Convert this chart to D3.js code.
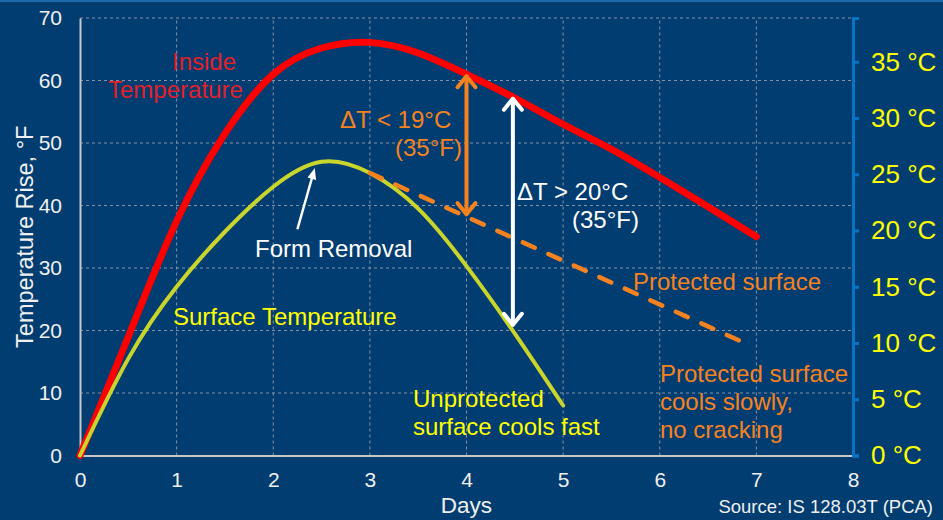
<!DOCTYPE html>
<html>
<head>
<meta charset="utf-8">
<script src="https://cdn.jsdelivr.net/npm/d3@7"></script>
<style>
  body { margin: 0; background: #023d71; }
  svg { display: block; font-family: "Liberation Sans", Arial, sans-serif; }
</style>
</head>
<body>
<div id="chart"></div>
<script>
// Werte
const dayTicks = [0, 1, 2, 3, 4, 5, 6, 7, 8];
const fTicks = [0, 10, 20, 30, 40, 50, 60, 70];
const cTicks = [0, 5, 10, 15, 20, 25, 30, 35];

const insideDays = [0, 0.5, 1, 1.5, 2, 2.5, 3, 3.5, 4, 4.5, 5, 5.5, 6, 6.5, 7];
const insideTemp = [0, 19, 37.5, 51.5, 61, 65.2, 66.1, 64.4, 61, 57.2, 53, 49, 44.5, 39.8, 35];

const surfaceDays = [0, 0.5, 1, 1.5, 2, 2.5, 3, 3.5, 4, 4.5, 5];
const surfaceTemp = [0, 15.5, 27, 35.8, 43, 47, 45.2, 39.5, 30.3, 19.5, 8];

const protectedDays = [3, 6.85];
const protectedTemp = [45.2, 18.2];

// Pfeile: [Tag, von, bis]
const arrowOrange = [4, 38.3, 61];
const arrowWhite = [4.48, 20.6, 57.4];
const formRemovalArrow = [[2.25, 36.2], [2.43, 46]];

const W = 943, H = 520;
const svg = d3.select("#chart").append("svg").attr("width", W).attr("height", H);

svg.append("rect").attr("width", W).attr("height", H).attr("fill", "#023d71");
svg.append("rect").attr("width", W).attr("height", 2).attr("fill", "#1a6aac");

const x = d3.scaleLinear().domain([0, 8]).range([80, 853]);
const y = d3.scaleLinear().domain([0, 70]).range([455.5, 18]);
const yC = d3.scaleLinear().domain([0, 70 / 1.8]).range([455.5, 18]);

// Gitterlinien
svg.append("g").selectAll("line").data(fTicks.filter(d => d > 0)).enter().append("line")
  .attr("x1", x(0)).attr("x2", x(8))
  .attr("y1", d => y(d)).attr("y2", d => y(d))
  .attr("stroke", "#8393a5").attr("stroke-width", 1).attr("stroke-dasharray", "3,3");
svg.append("g").selectAll("line").data(dayTicks.filter(d => d > 0 && d < 8)).enter().append("line")
  .attr("x1", d => x(d)).attr("x2", d => x(d))
  .attr("y1", y(0)).attr("y2", y(70))
  .attr("stroke", "#8393a5").attr("stroke-width", 1).attr("stroke-dasharray", "3,3");

// Linke Achse
const leftAxis = svg.append("g")
  .attr("transform", `translate(${x(0)},0)`)
  .call(d3.axisLeft(y).tickValues(fTicks).tickSize(0).tickPadding(18));
leftAxis.select(".domain").attr("stroke", "#c8c8c8").attr("stroke-width", 2);
leftAxis.selectAll("text").attr("fill", "#f0f0f0").style("font-size", "21px")
  .style("font-family", "Liberation Sans, Arial, sans-serif");

// Untere Achse
const bottomAxis = svg.append("g")
  .attr("transform", `translate(0,${y(0)})`)
  .call(d3.axisBottom(x).tickValues(dayTicks).tickSize(0).tickPadding(17));
bottomAxis.select(".domain").attr("stroke", "#c8c8c8").attr("stroke-width", 2);
bottomAxis.selectAll("text").attr("fill", "#f0f0f0").style("font-size", "21px")
  .style("font-family", "Liberation Sans, Arial, sans-serif");

// Rechte Achse (°C)
const rightAxis = svg.append("g")
  .attr("transform", `translate(${x(8)},0)`)
  .call(d3.axisRight(yC).tickValues(cTicks).tickSize(6).tickPadding(12).tickFormat(d => d + " °C"));
rightAxis.select(".domain").attr("stroke", "#0a74c4").attr("stroke-width", 3);
rightAxis.selectAll(".tick line").attr("stroke", "#0a74c4").attr("stroke-width", 3);
rightAxis.selectAll("text").attr("fill", "#ffff00").style("font-size", "26px")
  .style("font-family", "Liberation Sans, Arial, sans-serif");

// Achsentitel
svg.append("text")
  .attr("transform", `translate(33,${(y(0) + y(70)) / 2}) rotate(-90)`)
  .attr("text-anchor", "middle").attr("fill", "#f0f0f0").style("font-size", "23.5px")
  .text("Temperature Rise, °F");
svg.append("text")
  .attr("x", x(4)).attr("y", 513).attr("text-anchor", "middle")
  .attr("fill", "#f0f0f0").style("font-size", "22.5px").text("Days");
svg.append("text")
  .attr("x", 933).attr("y", 513).attr("text-anchor", "end")
  .attr("fill", "#f0f0f0").style("font-size", "18.5px").text("Source: IS 128.03T (PCA)");

// Kurven
const line = d3.line().x(d => x(d[0])).y(d => y(d[1])).curve(d3.curveNatural);
const surfaceData = surfaceDays.map((d, i) => [d, surfaceTemp[i]]);
const insideData = insideDays.map((d, i) => [d, insideTemp[i]]);
const protectedData = protectedDays.map((d, i) => [d, protectedTemp[i]]);

svg.append("path").datum(insideData).attr("d", line)
  .attr("fill", "none").attr("stroke", "#ff0000").attr("stroke-width", 7).attr("stroke-linecap", "round");
svg.append("path").datum(surfaceData).attr("d", line)
  .attr("fill", "none").attr("stroke", "#c9d52b").attr("stroke-width", 4).attr("stroke-linecap", "round");
svg.append("path").datum(protectedData).attr("d", d3.line().x(d => x(d[0])).y(d => y(d[1])))
  .attr("fill", "none").attr("stroke", "#f5821f").attr("stroke-width", 4.5)
  .attr("stroke-linecap", "round").attr("stroke-dasharray", "13,15");

// Doppelpfeile
function doubleArrow(a, color) {
  const g = svg.append("g").attr("stroke", color).attr("fill", "none")
    .attr("stroke-width", 4).attr("stroke-linecap", "round").attr("stroke-linejoin", "round");
  const px = x(a[0]), yb = y(a[1]), yt = y(a[2]);
  g.append("line").attr("x1", px).attr("x2", px).attr("y1", yt + 2).attr("y2", yb - 2);
  g.append("path").attr("d", `M${px - 9},${yt + 13}L${px},${yt + 2}L${px + 9},${yt + 13}`);
  g.append("path").attr("d", `M${px - 9},${yb - 13}L${px},${yb - 2}L${px + 9},${yb - 13}`);
}
doubleArrow(arrowOrange, "#f5821f");
doubleArrow(arrowWhite, "#ffffff");

// Pfeil "Form Removal"
{
  const [p0, p1] = formRemovalArrow.map(p => [x(p[0]), y(p[1])]);
  const ang = Math.atan2(p1[1] - p0[1], p1[0] - p0[0]);
  const len = 12, spread = 0.38;
  svg.append("line").attr("x1", p0[0]).attr("y1", p0[1])
    .attr("x2", p1[0] - Math.cos(ang) * 6).attr("y2", p1[1] - Math.sin(ang) * 6)
    .attr("stroke", "#fff").attr("stroke-width", 2.5);
  svg.append("path")
    .attr("d", `M${p1[0]},${p1[1]}L${p1[0] - len * Math.cos(ang - spread)},${p1[1] - len * Math.sin(ang - spread)}L${p1[0] - len * Math.cos(ang + spread)},${p1[1] - len * Math.sin(ang + spread)}Z`)
    .attr("fill", "#fff");
}

// Beschriftungen
function label(lines, px, py, color, anchor) {
  const t = svg.append("text").attr("fill", color).style("font-size", "24px")
    .attr("text-anchor", anchor || "start");
  lines.forEach((s, i) => {
    t.append("tspan").attr("x", Array.isArray(px) ? px[i] : px).attr("y", py + i * 28).text(s);
  });
}
label(["Inside", "Temperature"], [172, 108], 70, "#e3202a");
label(["Surface Temperature"], 173, 325, "#ffff00");
label(["Form Removal"], 255, 257, "#ffffff");
label(["ΔT < 19°C", "(35°F)"], [340, 395], 128, "#f5821f");
label(["ΔT > 20°C", "(35°F)"], [517, 572], 200, "#ffffff");
label(["Protected surface"], 633, 290, "#f5821f");
label(["Protected surface", "cools slowly,", "no cracking"], 660, 382, "#f5821f");
label(["Unprotected", "surface cools fast"], 413, 407, "#ffff00");
</script>
</body>
</html>
